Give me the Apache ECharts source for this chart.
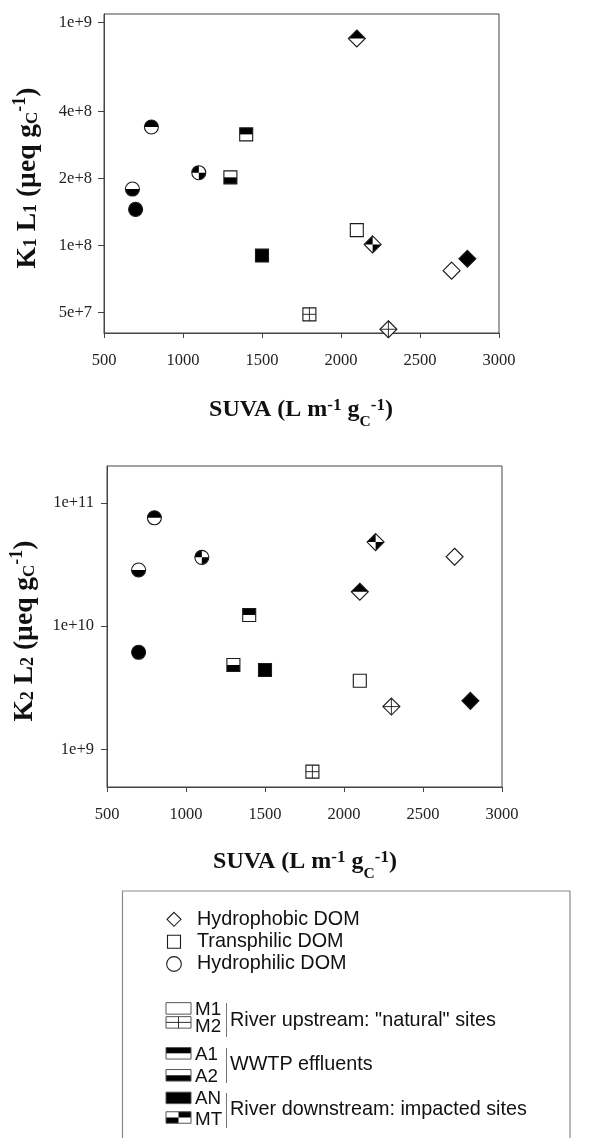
<!DOCTYPE html>
<html><head><meta charset="utf-8">
<script src="https://cdn.jsdelivr.net/npm/echarts@6/dist/echarts.min.js"></script>
<style>html,body{margin:0;padding:0;background:#fff}#c{width:590px;height:1138px}</style>
</head><body><div id="c"></div>
<script>
// ---------- DATA ----------
// Top panel: K1 L1 vs SUVA
const suvaTop  = [2100, 800, 1400, 1100, 1300, 680, 700, 2100, 2200, 1500, 2800, 2700, 1800, 2300];
const k1l1     = [8.5e8, 3.4e8, 3.15e8, 2.12e8, 2.02e8, 1.79e8, 1.45e8, 1.17e8, 1.01e8, 9.0e7, 8.7e7, 7.7e7, 4.9e7, 4.2e7];
const fracTop  = ['HPO','HPI','TPH','HPI','TPH','HPI','HPI','TPH','HPO','TPH','HPO','HPO','TPH','HPO'];
const siteTop  = ['A1','A1','A1','MT','A2','A2','AN','M1','MT','AN','AN','M1','M2','M2'];
// Bottom panel: K2 L2 vs SUVA
const suvaBot  = [800, 2200, 1100, 2700, 700, 2100, 1400, 700, 1300, 1500, 2100, 2300, 2800, 1800];
const k2l2     = [7.56e10, 4.8e10, 3.61e10, 3.65e10, 2.85e10, 1.9e10, 1.23e10, 6.12e9, 4.83e9, 4.4e9, 3.6e9, 2.22e9, 2.47e9, 6.58e8];
const fracBot  = ['HPI','HPO','HPI','HPO','HPI','HPO','TPH','HPI','TPH','TPH','TPH','HPO','HPO','TPH'];
const siteBot  = ['A1','MT','MT','M1','A2','A1','A1','AN','A2','AN','M1','M2','AN','M2'];
// Ticks
const xTickMin = 500, xTickMax = 3000, xTickStep = 500;
const yTopTicks  = [5e7, 1e8, 2e8, 4e8, 1e9];
const yTopLabels = ['5e+7', '1e+8', '2e+8', '4e+8', '1e+9'];
const yBotTicks  = [1e9, 1e10, 1e11];
const yBotLabels = ['1e+9', '1e+10', '1e+11'];
// Legend
const fractionKeys   = ['HPO', 'TPH', 'HPI'];
const fractionLabels = ['Hydrophobic DOM', 'Transphilic DOM', 'Hydrophilic DOM'];
const siteKeys       = ['M1', 'M2', 'A1', 'A2', 'AN', 'MT'];
const siteGroups     = ['River upstream: "natural" sites', 'WWTP effluents', 'River downstream: impacted sites'];

// ---------- GLYPHS ----------
const STROKE = '#1a1a1a', BLACK = '#000', LW = 1.1;
function glyph(frac, site, cx, cy, k, legendRect, z) {
  const ch = [];
  const Z = z || 0;
  const line = (x1, y1, x2, y2) => ch.push({type:'line', z:Z, shape:{x1,y1,x2,y2}, style:{stroke:STROKE, lineWidth:0.9}});
  if (legendRect) {
    const w = 25, h = 11.5, x = cx - w/2, y = cy - h/2;
    ch.push({type:'rect', z:Z, shape:{x,y,width:w,height:h}, style:{fill:'#fff'}});
    const r = (a,b,c,d) => ch.push({type:'rect', z:Z, shape:{x:a,y:b,width:c,height:d}, style:{fill:BLACK}});
    if (site === 'A1') r(x, y, w, h/2);
    if (site === 'A2') r(x, y + h/2, w, h/2);
    if (site === 'AN') r(x, y, w, h);
    if (site === 'MT') { r(x + w/2, y, w/2, h/2); r(x, y + h/2, w/2, h/2); }
    if (site === 'M2') { line(cx, y, cx, y + h); line(x, cy, x + w, cy); }
    ch.push({type:'rect', z:Z, shape:{x,y,width:w,height:h}, style:{fill:'none', stroke:'#555', lineWidth:1}});
    return {type:'group', children:ch};
  }
  if (frac === 'HPI') {
    const r = 7 * k;
    ch.push({type:'circle', z:Z, shape:{cx,cy,r}, style:{fill:'#fff'}});
    const sec = (a,b) => ch.push({type:'sector', z:Z, shape:{cx,cy,r0:0,r,startAngle:a,endAngle:b,clockwise:true}, style:{fill:BLACK}});
    if (site === 'A1') sec(Math.PI, 2*Math.PI);
    if (site === 'A2') sec(0, Math.PI);
    if (site === 'AN') sec(0, 2*Math.PI);
    if (site === 'MT') { sec(Math.PI, 1.5*Math.PI); sec(0, 0.5*Math.PI); }
    if (site === 'M2') { line(cx, cy-r, cx, cy+r); line(cx-r, cy, cx+r, cy); }
    ch.push({type:'circle', z:Z, shape:{cx,cy,r}, style:{fill:'none', stroke:STROKE, lineWidth:LW}});
  } else if (frac === 'TPH') {
    const h = 6.5 * k, x = cx - h, y = cy - h;
    ch.push({type:'rect', z:Z, shape:{x,y,width:2*h,height:2*h}, style:{fill:'#fff'}});
    const r = (a,b,c,d) => ch.push({type:'rect', z:Z, shape:{x:a,y:b,width:c,height:d}, style:{fill:BLACK}});
    if (site === 'A1') r(x, y, 2*h, h);
    if (site === 'A2') r(x, cy, 2*h, h);
    if (site === 'AN') r(x, y, 2*h, 2*h);
    if (site === 'MT') { r(x, y, h, h); r(cx, cy, h, h); }
    if (site === 'M2') { line(cx, y, cx, y+2*h); line(x, cy, x+2*h, cy); }
    ch.push({type:'rect', z:Z, shape:{x,y,width:2*h,height:2*h}, style:{fill:'none', stroke:STROKE, lineWidth:LW}});
  } else {
    const d = 8.5 * k;
    const T = [cx, cy-d], B = [cx, cy+d], L = [cx-d, cy], R = [cx+d, cy], C = [cx, cy];
    ch.push({type:'polygon', z:Z, shape:{points:[T,R,B,L]}, style:{fill:'#fff'}});
    const p = pts => ch.push({type:'polygon', z:Z, shape:{points:pts}, style:{fill:BLACK}});
    if (site === 'A1') p([L,T,R]);
    if (site === 'A2') p([L,B,R]);
    if (site === 'AN') p([T,R,B,L]);
    if (site === 'MT') { p([C,L,T]); p([C,R,B]); }
    if (site === 'M2') { line(cx, cy-d, cx, cy+d); line(cx-d, cy, cx+d, cy); }
    ch.push({type:'polygon', z:Z, shape:{points:[T,R,B,L]}, style:{fill:'none', stroke:STROKE, lineWidth:LW}});
  }
  return {type:'group', children:ch};
}
function makeRender(fracArr, siteArr) {
  return function (params, api) {
    const p = api.coord([api.value(0), api.value(1)]);
    return glyph(fracArr[params.dataIndex], siteArr[params.dataIndex], p[0], p[1], 1);
  };
}
function labelFor(ticks, labels) {
  return function (v) {
    const i = ticks.findIndex(t => Math.abs(t - v) / t < 1e-6);
    return i >= 0 ? labels[i] : '';
  };
}

// ---------- AXES ----------
const SERIF = 'Liberation Serif';
const AX = '#444';
function xAxisCfg(gi) {
  return {
    type:'value', gridIndex:gi, min:xTickMin, max:xTickMax, interval:xTickStep,
    axisLine:{show:true, onZero:false, lineStyle:{color:AX, width:1}},
    axisTick:{show:true, inside:false, length:5, lineStyle:{color:AX}},
    axisLabel:{fontFamily:SERIF, fontSize:16.5, color:'#222', margin:19, formatter:v => String(v)},
    splitLine:{show:false}
  };
}
function yAxisCfg(gi, mn, mx, ticks, labels, margin) {
  return {
    type:'log', logBase:10, gridIndex:gi, min:mn, max:mx,
    axisLine:{show:true, onZero:false, lineStyle:{color:AX, width:1}},
    axisTick:{show:true, inside:false, length:6, lineStyle:{color:AX}, customValues:ticks},
    axisLabel:{fontFamily:SERIF, fontSize:16.5, color:'#222', margin:margin, customValues:ticks, formatter:labelFor(ticks, labels)},
    splitLine:{show:false}, minorTick:{show:false}
  };
}

// ---------- TITLES ----------
const richX = {
  b:{fontFamily:SERIF, fontWeight:'bold', fontSize:24, fill:'#111'},
  sup:{fontFamily:SERIF, fontWeight:'bold', fontSize:17, fill:'#111', padding:[0,0,8,0]},
  subC:{fontFamily:SERIF, fontWeight:'bold', fontSize:15.5, fill:'#111', padding:[24,0,0,0]}
};
const richY = {
  b:{fontFamily:SERIF, fontWeight:'bold', fontSize:27.5, fill:'#111'},
  sub:{fontFamily:SERIF, fontWeight:'bold', fontSize:18, fill:'#111', padding:[7,0,0,0]},
  subC:{fontFamily:SERIF, fontWeight:'bold', fontSize:17, fill:'#111', padding:[9,0,0,0]},
  sup:{fontFamily:SERIF, fontWeight:'bold', fontSize:18, fill:'#111', padding:[0,0,15,0]}
};
function xTitle(cx, cy) {
  return {type:'text', x:cx, y:cy, style:{text:'{b|SUVA (L m}{sup|-1}{b| g}{subC|C}{sup|-1}{b|)}', rich:richX, align:'center', verticalAlign:'middle'}};
}
function yTitle(cx, cy, n) {
  return {type:'text', x:cx, y:cy, rotation:Math.PI/2, style:{text:'{b|K}{sub|' + n + '}{b| L}{sub|' + n + '}{b| (µeq g}{subC|C}{sup|-1}{b|)}', rich:richY, align:'center', verticalAlign:'middle'}};
}

// ---------- LEGEND ----------
const SANS = 'Liberation Sans';
const LFS = 19.8;
const legendEls = [];
legendEls.push({type:'rect', z:0, shape:{x:122.5, y:891, width:447.5, height:260}, style:{fill:'none', stroke:'#8a8a8a', lineWidth:1.2}});
const fracY = [919.3, 941.7, 964];
const fracScale = {HPO:0.82, TPH:1.0, HPI:1.05};
fractionKeys.forEach((f, i) => {
  legendEls.push(glyph(f, 'M1', 174, fracY[i], fracScale[f], false, 5));
  legendEls.push({type:'text', x:197, y:fracY[i], z:5, style:{text:fractionLabels[i], fontFamily:SANS, fontSize:LFS, fill:'#111', align:'left', verticalAlign:'middle'}});
});
const siteRectY  = [1008.4, 1022.4, 1053.3, 1075.3, 1097.9, 1117.5];
const siteLabelY = [1010, 1027, 1055, 1076.5, 1098.5, 1120];
siteKeys.forEach((s, i) => {
  legendEls.push(glyph(null, s, 178.5, siteRectY[i], 1, true, 5));
  legendEls.push({type:'text', x:195, y:siteLabelY[i], z:5, style:{text:s, fontFamily:SANS, fontSize:18.8, fill:'#111', align:'left', verticalAlign:'middle'}});
});
const bracketY = [[1003, 1037], [1048, 1083], [1093, 1128]];
const groupY = [1020.7, 1065, 1110];
siteGroups.forEach((t, i) => {
  legendEls.push({type:'line', z:5, shape:{x1:226.5, y1:bracketY[i][0], x2:226.5, y2:bracketY[i][1]}, style:{stroke:'#777', lineWidth:1}});
  legendEls.push({type:'text', x:230, y:groupY[i], z:5, style:{text:t, fontFamily:SANS, fontSize:LFS, fill:'#111', align:'left', verticalAlign:'middle'}});
});

// ---------- CHART ----------
const chart = echarts.init(document.getElementById('c'), null, {renderer:'canvas'});
chart.setOption({
  animation:false,
  backgroundColor:'#fff',
  grid:[
    {left:104, top:14, width:395, height:319, show:true, borderColor:AX, borderWidth:1, backgroundColor:'transparent'},
    {left:107, top:466, width:395, height:321, show:true, borderColor:AX, borderWidth:1, backgroundColor:'transparent'}
  ],
  xAxis:[xAxisCfg(0), xAxisCfg(1)],
  yAxis:[
    yAxisCfg(0, 4.04e7, 1.094e9, yTopTicks, yTopLabels, 12),
    yAxisCfg(1, 4.94e8, 1.99e11, yBotTicks, yBotLabels, 13)
  ],
  series:[
    {type:'custom', xAxisIndex:0, yAxisIndex:0, clip:false, z:5, renderItem:makeRender(fracTop, siteTop),
     data:suvaTop.map((x, i) => [x, k1l1[i]])},
    {type:'custom', xAxisIndex:1, yAxisIndex:1, clip:false, z:5, renderItem:makeRender(fracBot, siteBot),
     data:suvaBot.map((x, i) => [x, k2l2[i]])}
  ],
  graphic:{elements:[
    xTitle(301, 410), xTitle(305, 862),
    yTitle(28, 178, 1), yTitle(25, 631, 2)
  ].concat(legendEls)}
});
</script></body></html>
